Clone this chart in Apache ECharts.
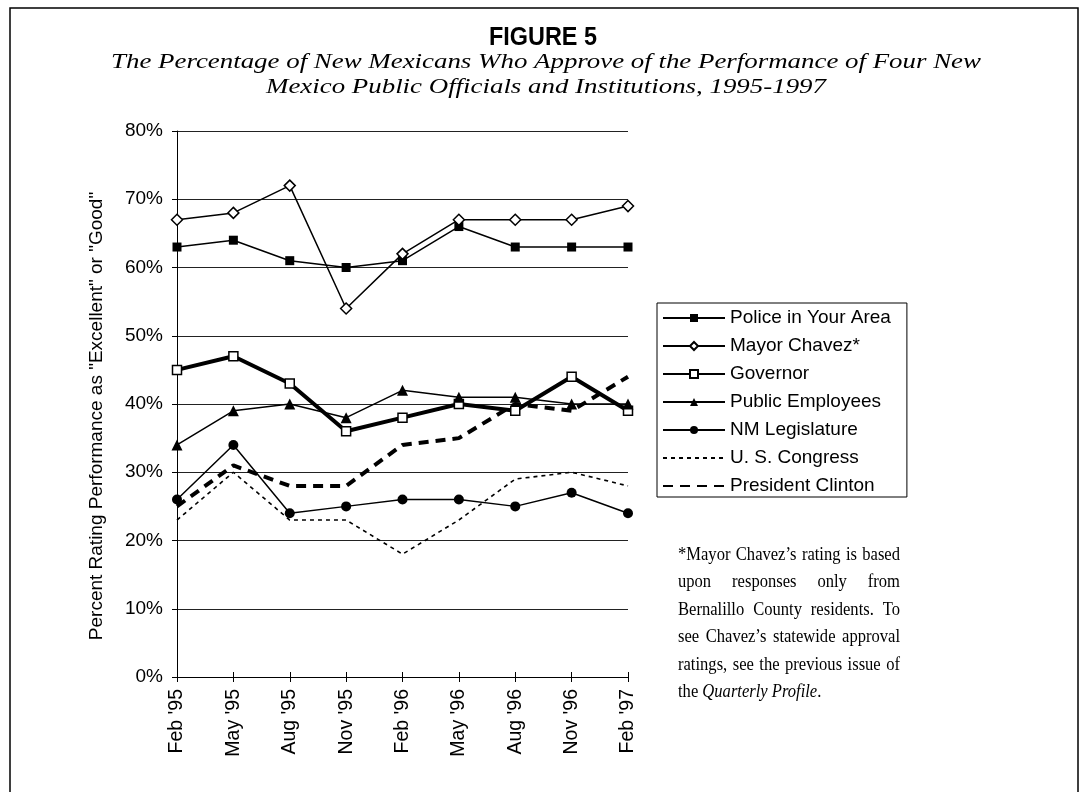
<!DOCTYPE html>
<html>
<head>
<meta charset="utf-8">
<script src="https://cdn.jsdelivr.net/npm/echarts/dist/echarts.min.js"></script>
<style>
  html, body { margin: 0; padding: 0; background: #fff; }
  #chart { width: 1088px; height: 792px; }
</style>
</head>
<body>
<div id="chart"></div>
<script>
// Survey waves (quarterly, 1995-1997)
const categories = ["Feb '95", "May '95", "Aug '95", "Nov '95", "Feb '96", "May '96", "Aug '96", "Nov '96", "Feb '97"];

// Percent rating performance as "Excellent" or "Good"
const police          = [63, 64, 61, 60, 61, 66, 63, 63, 63];
const mayorChavez     = [67, 68, 72, 54, 62, 67, 67, 67, 69];
const governor        = [45, 47, 43, 36, 38, 40, 39, 44, 39];
const publicEmployees = [34, 39, 40, 38, 42, 41, 41, 40, 40];
const legislature     = [26, 34, 24, 25, 26, 26, 25, 27, 24];
const congress        = [23, 30, 23, 23, 18, 23, 29, 30, 28];
const clinton         = [25, 31, 28, 28, 34, 35, 40, 39, 44];

const seriesNames = ['Police in Your Area', 'Mayor Chavez*', 'Governor', 'Public Employees',
                     'NM Legislature', 'U. S. Congress', 'President Clinton'];

const yTicks = { min: 0, max: 80, interval: 10 };

const noteLines = [
  '*Mayor Chavez\u2019s rating is based',
  'upon responses only from',
  'Bernalillo County residents. To',
  'see Chavez\u2019s statewide approval',
  'ratings, see the previous issue of'
];

const SANS = '"Liberation Sans", Arial, sans-serif';
const SERIF = '"Liberation Serif", "Times New Roman", serif';

// ---- justified footnote built from measured words ----
const measureCtx = document.createElement('canvas').getContext('2d');
const NOTE_SIZE = 18;
const NOTE_SCALE = 0.92;
const NOTE_LEFT = 678;
const NOTE_WIDTH = 222;
const NOTE_TOP = 555;
const NOTE_PITCH = 27.5;

function fontStr(style, size, family) {
  return style + ' ' + size + 'px ' + family;
}
function measure(text, font) {
  measureCtx.font = font;
  return measureCtx.measureText(text).width * NOTE_SCALE;
}
function wordText(text, x, y, fontStyle) {
  return {
    type: 'text', x: x, y: y, scaleX: NOTE_SCALE, silent: true,
    style: {
      text: text, fill: '#000',
      fontFamily: SERIF, fontSize: NOTE_SIZE, fontStyle: fontStyle || 'normal',
      textAlign: 'left', textVerticalAlign: 'middle'
    }
  };
}
function justifiedLine(line, y) {
  const font = fontStr('normal', NOTE_SIZE, SERIF);
  const words = line.split(' ');
  const widths = words.map(w => measure(w, font));
  const total = widths.reduce((a, b) => a + b, 0);
  const gap = (NOTE_WIDTH - total) / (words.length - 1);
  const out = [];
  let x = NOTE_LEFT;
  words.forEach((w, i) => {
    out.push(wordText(w, x, y));
    x += widths[i] + gap;
  });
  return out;
}
function lastLine(y) {
  const parts = [['the ', 'normal'], ['Quarterly Profile', 'italic'], ['.', 'normal']];
  const out = [];
  let x = NOTE_LEFT;
  parts.forEach(p => {
    out.push(wordText(p[0], x, y, p[1]));
    x += measure(p[0], fontStr(p[1], NOTE_SIZE, SERIF));
  });
  return out;
}

const noteElements = [];
noteLines.forEach((ln, i) => noteElements.push(...justifiedLine(ln, NOTE_TOP + i * NOTE_PITCH)));
noteElements.push(...lastLine(NOTE_TOP + noteLines.length * NOTE_PITCH));

// ---- series helpers ----
function markerSeries(name, data, symbol, size, hollow, width) {
  return {
    name: name, type: 'line', data: data,
    symbol: symbol, symbolSize: size, showAllSymbol: true,
    lineStyle: { color: '#000', width: width, type: 'solid' },
    itemStyle: hollow
      ? { color: '#fff', borderColor: '#000', borderWidth: 1.5 }
      : { color: '#000', borderColor: '#000', borderWidth: 0 },
    emphasis: { disabled: true }
  };
}
function dashedSeries(name, data, width, dash) {
  return {
    name: name, type: 'line', data: data, symbol: 'none',
    lineStyle: { color: '#000', width: width, type: dash },
    itemStyle: { color: '#000' },
    emphasis: { disabled: true }
  };
}

// legend entries: line-only series get no marker in their key
const legendData = seriesNames.map((n, i) =>
  i >= 5 ? { name: n, itemStyle: { opacity: 0 } } : { name: n });

const chart = echarts.init(document.getElementById('chart'), null, { renderer: 'canvas' });

chart.setOption({
  animation: false,
  backgroundColor: '#fff',
  grid: { left: 177, right: 460, top: 131, bottom: 115 },
  xAxis: [
    {
      type: 'category', data: categories, boundaryGap: false,
      axisLine: { lineStyle: { color: '#000', width: 1 } },
      axisTick: { show: true, length: 5, lineStyle: { color: '#000' } },
      axisLabel: {
        rotate: 90, margin: 12, color: '#000',
        fontFamily: SANS, fontSize: 19.5, interval: 0
      },
      splitLine: { show: false }
    },
    {
      type: 'category', data: categories, boundaryGap: false, position: 'bottom',
      axisLine: { show: false },
      axisTick: { show: true, inside: true, length: 5, lineStyle: { color: '#000' } },
      axisLabel: { show: false },
      splitLine: { show: false }
    }
  ],
  yAxis: {
    type: 'value', min: yTicks.min, max: yTicks.max, interval: yTicks.interval,
    axisLine: { show: true, lineStyle: { color: '#000', width: 1 } },
    axisTick: { show: true, length: 5, lineStyle: { color: '#000' } },
    axisLabel: {
      formatter: '{value}%', margin: 14, color: '#000',
      fontFamily: SANS, fontSize: 19
    },
    splitLine: { show: true, lineStyle: { color: '#222', width: 1 } }
  },
  legend: {
    orient: 'vertical', left: 657, top: 303,
    data: legendData,
    padding: [5, 16, 1, 5],
    itemWidth: 62, itemHeight: 10, itemGap: 8,
    borderColor: '#000', borderWidth: 1,
    selectedMode: false,
    textStyle: { color: '#000', fontFamily: SANS, fontSize: 19, lineHeight: 20 }
  },
  series: [
    markerSeries(seriesNames[0], police, 'rect', 9, false, 1.5),
    markerSeries(seriesNames[1], mayorChavez, 'diamond', 11, true, 1.5),
    markerSeries(seriesNames[2], governor, 'rect', 9, true, 4),
    markerSeries(seriesNames[3], publicEmployees, 'triangle', 11, false, 1.5),
    markerSeries(seriesNames[4], legislature, 'circle', 10, false, 1.5),
    dashedSeries(seriesNames[5], congress, 1.6, [4, 4]),
    dashedSeries(seriesNames[6], clinton, 4, [10, 7])
  ],
  graphic: [
    {
      type: 'rect', silent: true,
      shape: { x: 10, y: 8, width: 1068, height: 800 },
      style: { fill: 'none', stroke: '#000', lineWidth: 1.5 }
    },
    {
      type: 'text', x: 543, y: 38, scaleX: 0.9, silent: true,
      style: {
        text: 'FIGURE 5', fill: '#000', fontFamily: SANS, fontSize: 26, fontWeight: 'bold',
        textAlign: 'center', textVerticalAlign: 'middle'
      }
    },
    {
      type: 'text', x: 546, y: 62, scaleX: 1.28, silent: true,
      style: {
        text: 'The Percentage of New Mexicans Who Approve of the Performance of Four New',
        fill: '#000', fontFamily: SERIF, fontSize: 21, fontStyle: 'italic',
        textAlign: 'center', textVerticalAlign: 'middle'
      }
    },
    {
      type: 'text', x: 546, y: 87, scaleX: 1.28, silent: true,
      style: {
        text: 'Mexico Public Officials and Institutions, 1995-1997',
        fill: '#000', fontFamily: SERIF, fontSize: 21, fontStyle: 'italic',
        textAlign: 'center', textVerticalAlign: 'middle'
      }
    },
    {
      type: 'text', x: 97, y: 416, rotation: Math.PI / 2, silent: true,
      style: {
        text: 'Percent Rating Performance as "Excellent" or "Good"',
        fill: '#000', fontFamily: SANS, fontSize: 19,
        textAlign: 'center', textVerticalAlign: 'middle'
      }
    },
    { type: 'group', silent: true, children: noteElements }
  ]
});
</script>
</body>
</html>
